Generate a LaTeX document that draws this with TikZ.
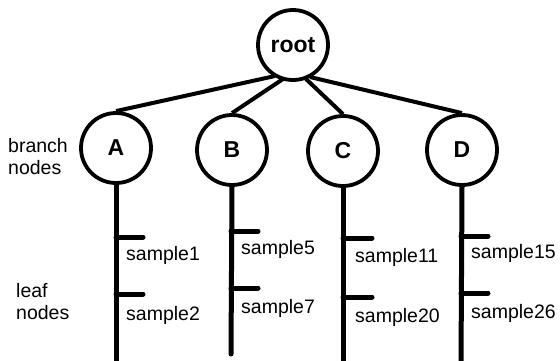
\documentclass[tikz,border=0pt]{standalone}
\usepackage{fontspec}
\setmainfont{Liberation Sans}
\begin{document}
\begin{tikzpicture}[x=1pt,y=-1pt,
  circnode/.style={circle,draw,line width=3.8pt,minimum size=70pt,inner sep=0pt,font=\fontsize{23}{26}\selectfont\bfseries},
  leaflbl/.style={anchor=base west,inner sep=0pt,font=\fontsize{19.5}{22}\selectfont},
  sidelbl/.style={anchor=base west,inner sep=0pt,font=\fontsize{19.5}{22}\selectfont},
  edge/.style={line width=4pt},
  stem/.style={line width=5pt},
  tick/.style={line width=5pt,line cap=round}]
\useasboundingbox (0,0) rectangle (560,360);
\node[circnode] (root) at (293,45) {root};
\node[circnode] (A) at (116,148) {A};
\node[circnode] (B) at (232,150) {B};
\node[circnode] (C) at (343,151) {C};
\node[circnode] (D) at (462,150) {D};
\coordinate (r1) at (275,76);
\coordinate (r2) at (283,79);
\coordinate (r3) at (306,79);
\coordinate (r4) at (310,77);
\draw[edge] (r1) -- (A.north);
\draw[edge] (r2) -- (B.north);
\draw[edge] (r3) -- (C.north);
\draw[edge] (r4) -- (D.north);
% stems
\coordinate (Aend) at (116,365);
\coordinate (Bend) at (231,354);
\coordinate (Cend) at (343,365);
\coordinate (Dend) at (461,365);
\draw[stem] (A.south) -- (Aend);
\draw[stem,line cap=round] (B.south) -- (Bend);
\draw[stem] (C.south) -- (Cend);
\draw[stem] (D.south) -- (Dend);
% ticks
\coordinate (a1) at (116,237); \coordinate (a1e) at (143,237);
\coordinate (a2) at (116,294); \coordinate (a2e) at (143,294);
\coordinate (b1) at (231,231); \coordinate (b1e) at (258,231);
\coordinate (b2) at (231,288); \coordinate (b2e) at (258,288);
\coordinate (c1) at (343,238); \coordinate (c1e) at (372,238);
\coordinate (c2) at (343,297); \coordinate (c2e) at (372,297);
\coordinate (d1) at (461,236); \coordinate (d1e) at (488,236);
\coordinate (d2) at (461,293); \coordinate (d2e) at (488,293);
\foreach \p in {a1,a2,b1,b2,c1,c2,d1,d2} \draw[tick] (\p) -- (\p e);
% leaf labels
\node[leaflbl] (s1) at (126,260) {sample1};
\node[leaflbl] (s2) at (126,320) {sample2};
\node[leaflbl] (s5) at (241,254) {sample5};
\node[leaflbl] (s7) at (241,313) {sample7};
\node[leaflbl] (s11) at (355,262) {sample11};
\node[leaflbl] (s20) at (355,322) {sample20};
\node[leaflbl] (s15) at (471,258) {sample15};
\node[leaflbl] (s26) at (471,318) {sample26};
% side labels
\node[sidelbl] (bn1) at (8,152) {branch};
\node[sidelbl] (bn2) at (8,174) {nodes};
\node[sidelbl] (ln1) at (16,297) {leaf};
\node[sidelbl] (ln2) at (16,319) {nodes};
\end{tikzpicture}
\end{document}
